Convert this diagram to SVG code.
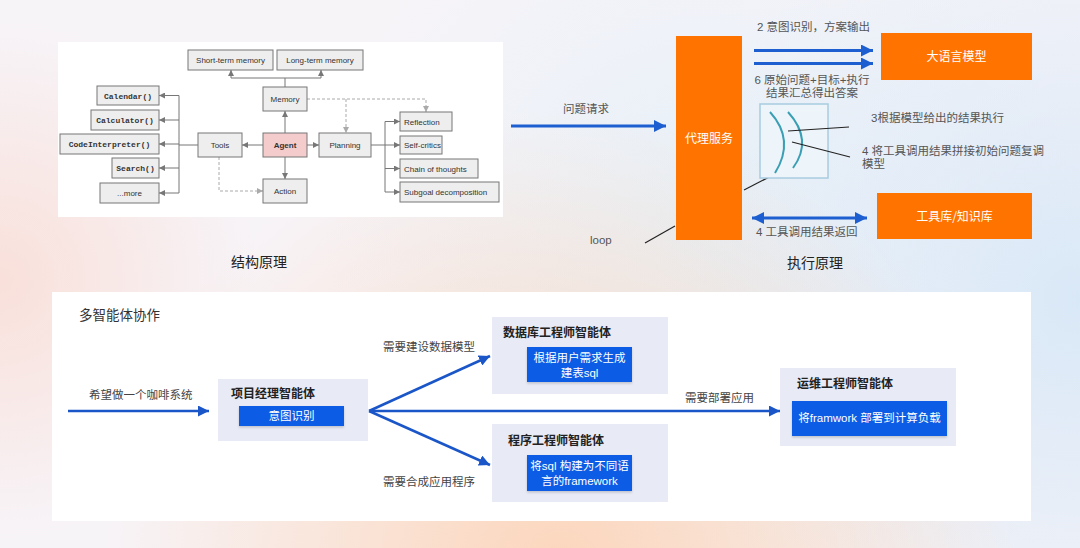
<svg xmlns="http://www.w3.org/2000/svg" width="1080" height="548" viewBox="0 0 1080 548">
<defs>
<radialGradient id="bgB" cx="560" cy="570" r="460" gradientUnits="userSpaceOnUse"><stop offset="0" stop-color="#fcd6bc"/><stop offset="1" stop-color="#fcd6bc" stop-opacity="0"/></radialGradient>
<radialGradient id="bgL" cx="0" cy="280" r="260" gradientUnits="userSpaceOnUse"><stop offset="0" stop-color="#f9e0da"/><stop offset="1" stop-color="#f9e0da" stop-opacity="0"/></radialGradient>
<radialGradient id="bgR" cx="1080" cy="300" r="420" gradientUnits="userSpaceOnUse"><stop offset="0" stop-color="#d9e8f7"/><stop offset="1" stop-color="#d9e8f7" stop-opacity="0"/></radialGradient>
<radialGradient id="bgM" cx="700" cy="230" r="380" gradientUnits="userSpaceOnUse"><stop offset="0" stop-color="#e6f0f8"/><stop offset="1" stop-color="#e6f0f8" stop-opacity="0"/></radialGradient>
<marker id="ga" viewBox="0 0 6 6" refX="6" refY="3" markerWidth="6" markerHeight="6" markerUnits="userSpaceOnUse" orient="auto"><path d="M0,0 L6,3 L0,6 z" fill="#777"/></marker>
<marker id="gd" viewBox="0 0 6 6" refX="6" refY="3" markerWidth="6" markerHeight="6" markerUnits="userSpaceOnUse" orient="auto"><path d="M0,0 L6,3 L0,6 z" fill="#aaa"/></marker>
<marker id="ba" viewBox="0 0 10 10" refX="10" refY="5" markerWidth="12" markerHeight="12" markerUnits="userSpaceOnUse" orient="auto-start-reverse"><path d="M0,0 L10,5 L0,10 z" fill="#1d5fd1"/></marker>
<marker id="bb" viewBox="0 0 10 10" refX="10" refY="5" markerWidth="11" markerHeight="11" markerUnits="userSpaceOnUse" orient="auto"><path d="M0,0 L10,5 L0,10 z" fill="#1a56c8"/></marker>
<filter id="sh" x="-5%" y="-10%" width="110%" height="130%"><feDropShadow dx="0" dy="1.5" stdDeviation="1.2" flood-color="#000" flood-opacity="0.18"/></filter>
</defs>
<style>
.bx{fill:#eeeeee;stroke:#777;stroke-width:1}
.t8{font-family:"Liberation Sans",Arial,sans-serif;font-size:8px;fill:#333}
.mono{font-family:"Liberation Mono","Courier New",monospace;font-size:8px;font-weight:bold;fill:#333}
.gl{fill:none;stroke:#777;stroke-width:1}
.dl{fill:none;stroke:#aaa;stroke-width:1;stroke-dasharray:3 2}
.org{fill:#ff7300}
.wt{font-family:"Noto Sans CJK SC",sans-serif;font-size:12px;fill:#fff}
.lb{font-family:"Liberation Sans","Noto Sans CJK SC",sans-serif;font-size:11.5px;fill:#555}
.cap{font-family:"Noto Sans CJK SC",sans-serif;font-size:14px;fill:#222}
.ba{fill:none;stroke:#1d5fd1;stroke-width:3}
.bb{fill:none;stroke:#1a56c8;stroke-width:2.5}
.blk{fill:none;stroke:#222;stroke-width:1.2}
.pn{fill:#e8eaf6}
.bl{fill:#0b5ce5}
.ti{font-family:"Noto Sans CJK SC",sans-serif;font-size:12px;font-weight:bold;fill:#222}
.bt{font-family:"Liberation Sans","Noto Sans CJK SC",sans-serif;font-size:11.5px;fill:#fff}
.gt{font-family:"Noto Sans CJK SC",sans-serif;font-size:11.5px;fill:#444}
</style>
<rect width="1080" height="548" fill="#f7f4f8"/>
<rect width="1080" height="548" fill="url(#bgM)"/>
<rect width="1080" height="548" fill="url(#bgR)"/>
<rect width="1080" height="548" fill="url(#bgL)"/>
<rect width="1080" height="548" fill="url(#bgB)"/>

<!-- Structure panel -->
<rect x="58" y="42" width="445" height="175" fill="#fff"/>
<g id="connectors-structure">
<path class="gl" d="M285,87 V78 H231 V70" marker-end="url(#ga)"/>
<path class="gl" d="M285,78 H321 V70" marker-end="url(#ga)"/>
<path class="gl" d="M285,133 V111" marker-end="url(#ga)"/>
<path class="gl" d="M285,157 V179" marker-end="url(#ga)"/>
<path class="gl" d="M263,145 H242" marker-end="url(#ga)"/>
<path class="gl" d="M307,145 H319" marker-end="url(#ga)"/>
<path class="gl" d="M198,145 H179 M179,95.5 V193"/>
<path class="gl" d="M179,95.5 H159" marker-end="url(#ga)"/>
<path class="gl" d="M179,120 H159" marker-end="url(#ga)"/>
<path class="gl" d="M179,144 H159" marker-end="url(#ga)"/>
<path class="gl" d="M179,168 H159" marker-end="url(#ga)"/>
<path class="gl" d="M179,193 H159" marker-end="url(#ga)"/>
<path class="gl" d="M371,145 H385 M385,121.5 V192"/>
<path class="gl" d="M385,121.5 H400" marker-end="url(#ga)"/>
<path class="gl" d="M385,145 H400" marker-end="url(#ga)"/>
<path class="gl" d="M385,168.5 H400" marker-end="url(#ga)"/>
<path class="gl" d="M385,192 H400" marker-end="url(#ga)"/>
<path class="dl" d="M307,99 H426 V112" marker-end="url(#gd)"/>
<path class="dl" d="M346,99 V133" marker-end="url(#gd)"/>
<path class="dl" d="M219,157 V191 H263" marker-end="url(#gd)"/>
</g>
<g id="n-short"><rect class="bx" x="188" y="50" width="85" height="20"/><text class="t8" x="230.5" y="63" text-anchor="middle">Short-term memory</text></g>
<g id="n-long"><rect class="bx" x="277" y="50" width="86" height="20"/><text class="t8" x="320" y="63" text-anchor="middle">Long-term memory</text></g>
<g id="n-memory"><rect class="bx" x="263" y="87" width="44" height="24"/><text class="t8" x="285" y="102" text-anchor="middle">Memory</text></g>
<g id="n-agent"><rect x="263" y="133" width="44" height="24" fill="#f4cccc" stroke="#777"/><text class="t8" x="285" y="148" text-anchor="middle" font-weight="bold">Agent</text></g>
<g id="n-tools"><rect class="bx" x="198" y="133" width="44" height="24"/><text class="t8" x="220" y="148" text-anchor="middle">Tools</text></g>
<g id="n-planning"><rect class="bx" x="319" y="133" width="52" height="24"/><text class="t8" x="345" y="148" text-anchor="middle">Planning</text></g>
<g id="n-action"><rect class="bx" x="263" y="179" width="44" height="24"/><text class="t8" x="285" y="194" text-anchor="middle">Action</text></g>
<g id="n-calendar"><rect class="bx" x="97" y="86" width="62" height="19"/><text class="mono" x="128" y="98.5" text-anchor="middle">Calendar()</text></g>
<g id="n-calculator"><rect class="bx" x="91" y="110" width="68" height="20"/><text class="mono" x="125" y="123" text-anchor="middle">Calculator()</text></g>
<g id="n-code"><rect class="bx" x="60" y="134" width="99" height="20"/><text class="mono" x="109.5" y="147" text-anchor="middle">CodeInterpreter()</text></g>
<g id="n-search"><rect class="bx" x="112" y="158" width="47" height="20"/><text class="mono" x="135.5" y="171" text-anchor="middle">Search()</text></g>
<g id="n-more"><rect class="bx" x="100" y="183" width="59" height="20"/><text class="t8" x="129.5" y="196" text-anchor="middle">...more</text></g>
<g id="n-reflection"><rect class="bx" x="400" y="112" width="52" height="19"/><text class="t8" x="404" y="124.5">Reflection</text></g>
<g id="n-selfcritics"><rect class="bx" x="400" y="136" width="42" height="18"/><text class="t8" x="404" y="148">Self-critics</text></g>
<g id="n-chain"><rect class="bx" x="400" y="159" width="78" height="19"/><text class="t8" x="404" y="171.5">Chain of thoughts</text></g>
<g id="n-subgoal"><rect class="bx" x="400" y="182" width="99" height="20"/><text class="t8" x="404" y="195">Subgoal decomposition</text></g>
<text class="cap" x="231" y="267">结构原理</text>

<!-- Execution principle -->
<g id="connectors-exec">
<path class="ba" d="M511,126 H666" marker-end="url(#ba)"/>
<path class="ba" d="M754,50.5 H873" marker-end="url(#ba)"/>
<path class="ba" d="M754,63.5 H873" marker-end="url(#ba)"/>
<path class="ba" d="M752,218 H867" marker-start="url(#ba)" marker-end="url(#ba)"/>
<path class="blk" d="M744,190 L775,174"/>
<path class="blk" d="M645,243 L675,226"/>
</g>
<g id="n-proxy"><rect class="org" x="676" y="36" width="66" height="204"/><text class="wt" x="709" y="143" text-anchor="middle">代理服务</text></g>
<g id="n-llm"><rect class="org" x="881" y="33" width="151" height="47"/><text class="wt" x="956.5" y="61" text-anchor="middle">大语言模型</text></g>
<g id="n-tools-kb"><rect class="org" x="877" y="193" width="155" height="46"/><text class="wt" x="954.5" y="221" text-anchor="middle">工具库/知识库</text></g>
<g id="n-loop-sketch">
<rect x="760" y="104" width="68" height="74" fill="#eef5fa" stroke="#a8cbe0" stroke-width="1.5"/>
<path d="M770,112 Q795.5,140 775,173" fill="none" stroke="#3a9fb5" stroke-width="2"/>
<path d="M788,112 Q813.5,140 793,168" fill="none" stroke="#3a9fb5" stroke-width="2"/>
<path class="blk" d="M788,131 L849,127 M792,142 L850,157"/>
</g>
<text class="lb" x="757" y="31">2 意图识别，方案输出</text>
<text class="lb" x="812" y="84" text-anchor="middle">6 原始问题+目标+执行</text>
<text class="lb" x="812" y="97" text-anchor="middle">结果汇总得出答案</text>
<text class="lb" x="586" y="113" text-anchor="middle">问题请求</text>
<text class="lb" x="590" y="244" font-size="12">loop</text>
<text class="lb" x="871" y="122">3根据模型给出的结果执行</text>
<text class="lb" x="862" y="155">4 将工具调用结果拼接初始问题复调</text>
<text class="lb" x="862" y="168">模型</text>
<text class="lb" x="756" y="236">4 工具调用结果返回</text>
<text class="cap" x="787" y="268">执行原理</text>

<!-- Multi-agent collaboration -->
<rect x="52" y="292" width="979" height="229" fill="#fff"/>
<text x="79" y="320" font-family="'Noto Sans CJK SC',sans-serif" font-size="13.5" fill="#333">多智能体协作</text>
<g id="connectors-multi">
<path class="bb" d="M68,411 H209" marker-end="url(#bb)"/>
<path class="bb" d="M369,411 L490,356" marker-end="url(#bb)"/>
<path class="bb" d="M369,411 L490,465" marker-end="url(#bb)"/>
<path class="bb" d="M369,411 H780" marker-end="url(#bb)"/>
</g>
<text class="gt" x="89" y="399">希望做一个咖啡系统</text>
<text class="gt" x="383" y="351">需要建设数据模型</text>
<text class="gt" x="383" y="486">需要合成应用程序</text>
<text class="gt" x="685" y="402">需要部署应用</text>
<g id="n-pm"><rect class="pn" x="218" y="379" width="150" height="62"/><text class="ti" x="231" y="398">项目经理智能体</text><rect class="bl" x="239" y="406" width="105" height="20" filter="url(#sh)"/><text class="bt" x="291.5" y="420" text-anchor="middle">意图识别</text></g>
<g id="n-db"><rect class="pn" x="492" y="317" width="176" height="77"/><text class="ti" x="503" y="337">数据库工程师智能体</text><rect class="bl" x="527" y="347" width="105" height="35" filter="url(#sh)"/><text class="bt" x="579.5" y="362" text-anchor="middle">根据用户需求生成</text><text class="bt" x="579.5" y="377" text-anchor="middle">建表sql</text></g>
<g id="n-dev"><rect class="pn" x="492" y="424" width="176" height="78"/><text class="ti" x="508" y="445">程序工程师智能体</text><rect class="bl" x="527" y="455" width="105" height="36" filter="url(#sh)"/><text class="bt" x="579.5" y="470" text-anchor="middle">将sql 构建为不同语</text><text class="bt" x="579.5" y="485" text-anchor="middle">言的framework</text></g>
<g id="n-ops"><rect class="pn" x="780" y="368" width="176" height="78"/><text class="ti" x="797" y="388">运维工程师智能体</text><rect class="bl" x="792" y="401" width="155" height="35" filter="url(#sh)"/><text class="bt" x="869.5" y="422" text-anchor="middle">将framwork 部署到计算负载</text></g>
</svg>
